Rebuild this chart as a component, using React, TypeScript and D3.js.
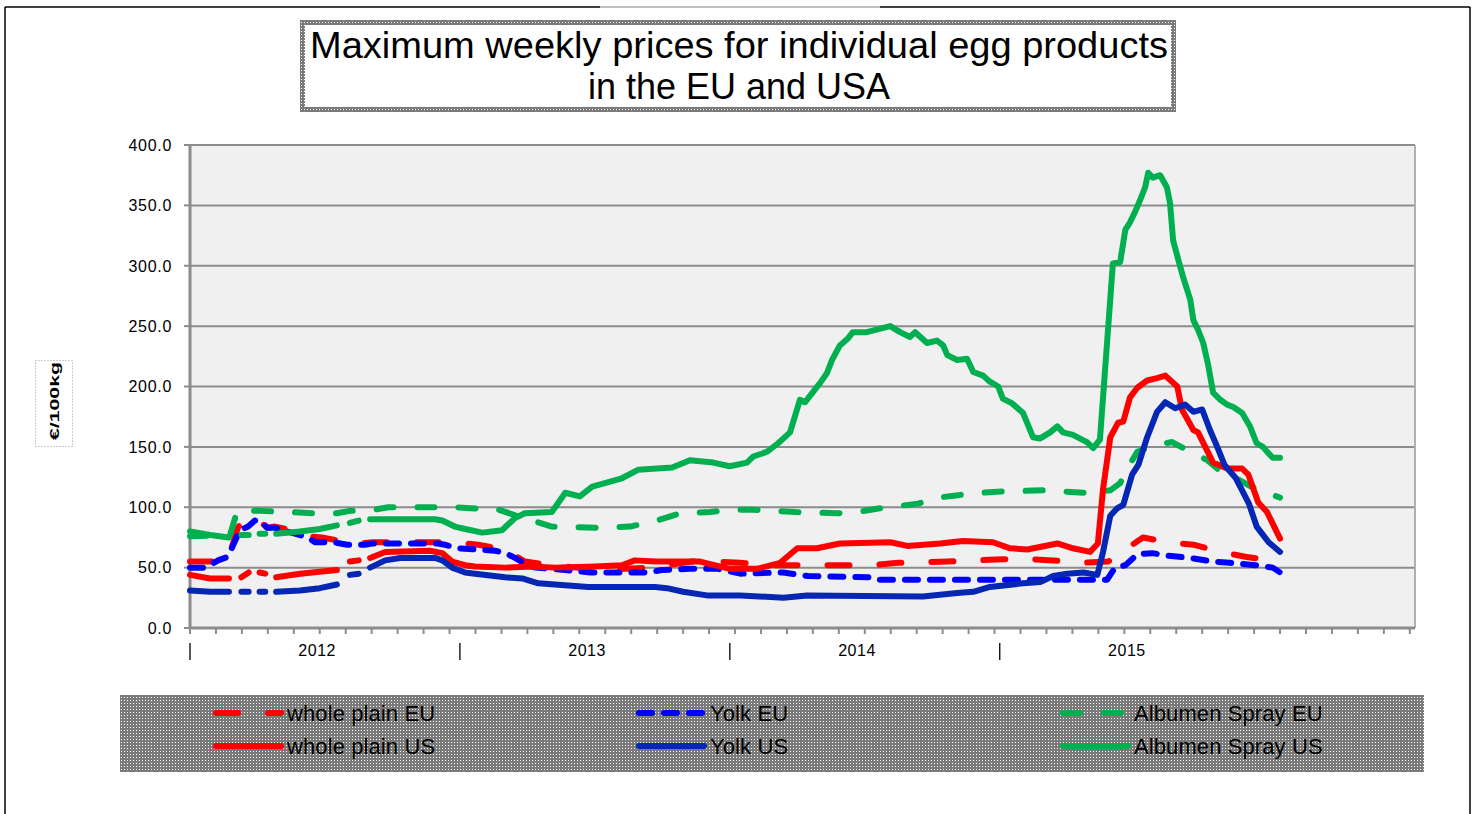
import React from "react";
import * as d3 from "d3";

type Pt = [number, number | null];

// x = week index from the first week of 2012, y = EUR / 100 kg
const yearLabels = ["2012", "2013", "2014", "2015"];
const yearStartWeeks = [0, 52, 104, 156];
const yTicks = [0, 50, 100, 150, 200, 250, 300, 350, 400];

const wholePlainEU: Pt[] = [
  [0, 55], [4.8, 55], [7.3, 56], [9.2, 83], [10.6, 90], [11.9, 91], [13.1, 89], [15, 83], [16.4, 84],
  [19.7, 81], [22.7, 76], [25.4, 75], [30.4, 71], [32.4, 70], [35.3, 71], [40.5, 71], [51.1, 71],
  [55.5, 69], [60.7, 65], [64.5, 55], [69.7, 52], [79, 48], [88.6, 50], [98.3, 56], [101.5, 55],
  [106, 54], [111.4, 52], [121.8, 52], [131.6, 52], [136.4, 54], [146, 55], [151.6, 56], [156.5, 57],
  [161.8, 57], [166.3, 56], [172.1, 54], [176.9, 55], [180.2, 65], [183.6, 75], [188.4, 71],
  [193.3, 69], [198.5, 63], [203.3, 59], [210, 55],
];

const yolkEU: Pt[] = [
  [0, 50], [2.9, 50], [5.4, 56], [7.3, 59], [9.6, 81], [11.2, 84], [12.5, 89], [13.9, 88], [14.8, 83],
  [16.4, 83], [22.7, 75], [24.1, 71], [27.6, 71], [30.3, 69], [33.7, 69], [35.1, 70], [40.8, 70],
  [47.8, 70], [49.1, 69], [51.6, 66], [55.5, 65], [58.8, 64], [60.7, 62], [62.2, 59], [65.1, 52],
  [66.5, 50], [72.3, 48], [77.1, 46], [88.2, 46], [90.9, 48], [96.3, 49], [101.7, 49], [106, 45],
  [114.3, 46], [119.1, 43], [131.6, 42], [132.9, 40], [176.7, 40], [178.2, 50], [180.2, 52],
  [182.5, 61], [185.4, 62], [188.2, 60], [192.7, 58], [197.1, 55], [200.4, 54], [205.2, 52],
  [208.6, 50], [210, 46],
];

const albumenEU: Pt[] = [
  [0, 76], [7.7, 77], [9.1, 97], [13.5, 97], [19.3, 96], [24.1, 95], [28.3, 95], [30.8, 97], [34.1, 97],
  [38.2, 100], [50.5, 100], [54.9, 99], [58.8, 99], [63.6, 92], [69.7, 84], [79, 83], [84.8, 84],
  [90, 89], [94.4, 95], [100.2, 96], [104, 98], [108.5, 98], [116.6, 96], [124.7, 95], [128.5, 96],
  [132.6, 99], [140.3, 103], [144.1, 108], [148, 110], [152.2, 112], [156.5, 113], [164.4, 114],
  [172.4, 112], [177.3, 114], [179.2, 120], [180.7, 133], [182.5, 146], [185.5, 151], [189.2, 154],
  [192.7, 146], [196, 139], [199, 128], [201.9, 123], [205.8, 114], [210, 108],
];

// US series have missing weeks early in 2012 (null = gap)
const wholePlainUS: Pt[] = [
  [0, 44], [3.9, 41], [7.5, 41], [8.7, null],
  [9.9, 42], [11.3, 46], [12.3, null],
  [13.4, 46], [14.5, 45], [15.5, null],
  [16.6, 42], [21.2, 45], [28.3, 48], [29.5, null],
  [30.8, 55], [32.5, 56], [33.6, null],
  [34.7, 58], [37.6, 63], [46.2, 64], [48.6, 62], [50.5, 55], [53, 52], [54.9, 51], [60.7, 50],
  [65.9, 51], [70.3, 50], [78, 51], [83.2, 52], [85.7, 56], [89.6, 55], [98.3, 55], [104, 49],
  [109.2, 49], [113.7, 54], [117, 66], [120.8, 66], [125.2, 70], [134.9, 71], [138.2, 68],
  [144.5, 70], [148.9, 72], [154.7, 71], [158, 66], [161.3, 65], [167.1, 70], [170.1, 66],
  [173.4, 63], [174.9, 70], [175.9, 115], [177.3, 158], [178.8, 170], [179.8, 171], [181.1, 191],
  [182.5, 199], [184.4, 205], [186.3, 207], [187.9, 209], [190.2, 200], [191.1, 181], [193.3, 164],
  [194.2, 162], [197.1, 137], [199.8, 132], [202.7, 132], [203.9, 127], [205.8, 104], [207.5, 96],
  [210, 74],
];

const yolkUS: Pt[] = [
  [0, 31], [3.9, 30], [7.5, 30], [8.7, null],
  [9.9, 30], [11.3, 30], [12.3, null],
  [13.4, 30], [14.5, 30], [15.5, null],
  [16.6, 30], [21.2, 31], [25, 33], [28.3, 36], [29.5, null],
  [30.8, 44], [32.5, 45], [33.6, null],
  [34.7, 50], [37.6, 56], [40.5, 58], [47.2, 58], [48.6, 56], [50.5, 50], [53, 46], [54.9, 45],
  [60.7, 42], [64, 41], [67.1, 37], [76.7, 34], [89.6, 34], [91.9, 33], [95, 30], [99.6, 27],
  [106, 27], [114.3, 25], [118.9, 27], [141.2, 26], [147.8, 29], [150.9, 30], [154.1, 34],
  [160.5, 37], [163.8, 38], [166.3, 43], [169, 45], [172.1, 46], [174.8, 44], [175.9, 63],
  [177.3, 93], [178.6, 99], [179.8, 102], [181.5, 127], [182.7, 135], [184.4, 158], [186.3, 179],
  [187.9, 187], [189.8, 182], [191.7, 185], [193.3, 179], [195, 181], [196.5, 164], [197.9, 150],
  [199.3, 135], [201.5, 124], [204, 103], [205.5, 84], [207.8, 71], [210, 63],
];

const albumenUS: Pt[] = [
  [0, 80], [3.9, 77], [7.5, 75], [8.7, null],
  [9.9, 77], [11.3, 77], [12.3, null],
  [13.4, 78], [14.5, 78], [15.5, null],
  [16.6, 78], [21.2, 80], [25, 82], [28.3, 85], [29.5, null],
  [30.8, 87], [32.5, 89], [33.6, null],
  [34.7, 90], [40.5, 90], [47.2, 90], [48.6, 89], [51, 84], [53, 82], [56.3, 79], [60.1, 81],
  [62.6, 91], [64.5, 95], [69.7, 96], [72.3, 112], [75.1, 109], [77.5, 117], [83.2, 124],
  [86.3, 131], [92.9, 133], [96.3, 139], [100.8, 137], [104, 134], [107.3, 137], [108.5, 142],
  [111.2, 146], [113.3, 153], [115.6, 162], [117.5, 189], [118.5, 187], [121.4, 203], [122.7, 211],
  [123.7, 222], [125.2, 234], [126.8, 240], [127.7, 245], [130.4, 245], [134.9, 250], [136.8, 245],
  [138.7, 241], [139.7, 245], [142, 236], [143.9, 238], [145.1, 234], [145.9, 226], [147.8, 222],
  [149.7, 223], [150.9, 212], [152.8, 209], [154.1, 204], [155.7, 200], [156.6, 190], [158.4, 186],
  [160.5, 178], [162.4, 158], [163.8, 157], [165.7, 162], [167.1, 167], [168.2, 162], [170.1, 160],
  [172.8, 154], [174, 149], [175.3, 156], [177.8, 302], [179.2, 303], [180.2, 330], [181.1, 336],
  [182.1, 345], [183, 354], [184, 365], [184.6, 377], [185.5, 373], [186.9, 375], [188.2, 365],
  [188.8, 352], [189.4, 321], [190.4, 305], [191.3, 291], [192.7, 272], [193.3, 255], [194.2, 247],
  [195.2, 236], [196.1, 219], [197.1, 195], [198.5, 189], [199.8, 185], [201, 183], [202.7, 178],
  [204.2, 167], [205.5, 153], [206.7, 150], [207.7, 145], [208.6, 141], [210, 141],
];

const series = [
  { name: "whole plain EU", data: wholePlainEU, color: "#ff0000", dash: "22,30" },
  { name: "Yolk EU", data: yolkEU, color: "#0000ff", dash: "13,12" },
  { name: "Albumen Spray EU", data: albumenEU, color: "#00b050", dash: "17,24" },
  { name: "whole plain US", data: wholePlainUS, color: "#ff0000", dash: null },
  { name: "Yolk US", data: yolkUS, color: "#0626b4", dash: null },
  { name: "Albumen Spray US", data: albumenUS, color: "#00b050", dash: null },
];

const W = 1476;
const H = 814;
const plot = { left: 190, right: 1415, top: 145, bottom: 628 };
const font = "'Liberation Sans', Arial, sans-serif";

export default function App() {
  const x = d3.scaleLinear().domain([0, 236]).range([plot.left, plot.right]);
  const y = d3.scaleLinear().domain([0, 400]).range([plot.bottom, plot.top]);
  const line = d3
    .line<Pt>()
    .defined((d) => d[1] !== null)
    .x((d) => x(d[0]))
    .y((d) => y(d[1] as number));

  const minorTicks = d3.range(0, 237, 5);
  const legendX = [213, 636, 1060];
  const legendY = [713, 746];

  return (
    <svg
      width={W}
      height={H}
      style={{ position: "absolute", left: 0, top: 0, background: "#fff" }}
      fontFamily={font}
    >
      <defs>
        <pattern id="stipple" width="3" height="3" patternUnits="userSpaceOnUse">
          <rect width="3" height="3" fill="#7a7a7a" />
          <rect x="1" y="1" width="1" height="1" fill="#ffffff" />
        </pattern>
      </defs>

      {/* outer frame */}
      <line x1={5} y1={7} x2={600} y2={7} stroke="#000" strokeWidth={1.5} />
      <line x1={600} y1={7} x2={880} y2={7} stroke="#aaa" strokeWidth={1.5} />
      <line x1={880} y1={7} x2={1470} y2={7} stroke="#000" strokeWidth={1.5} />
      <line x1={5} y1={7} x2={5} y2={H} stroke="#000" strokeWidth={1.5} />
      <line x1={1470} y1={7} x2={1470} y2={H} stroke="#000" strokeWidth={1.5} />

      {/* title */}
      <rect x={302.5} y={22.5} width={871} height={87} fill="#fff" stroke="url(#stipple)" strokeWidth={5} />
      <text x={310} y={58} fontSize={37} textLength={858} lengthAdjust="spacingAndGlyphs" fill="#000">
        Maximum weekly prices for individual egg products
      </text>
      <text x={588} y={99} fontSize={37} textLength={302} lengthAdjust="spacingAndGlyphs" fill="#000">
        in the EU and USA
      </text>

      {/* y label */}
      <rect x={35.5} y={360.5} width={37} height={86} fill="none" stroke="#999" strokeDasharray="1,2" />
      <text
        transform="translate(59,401) rotate(-90)"
        textAnchor="middle"
        fontSize={13}
        fontWeight="bold"
        textLength={78}
        lengthAdjust="spacingAndGlyphs"
      >
        €/100kg
      </text>

      {/* plot area */}
      <rect x={plot.left} y={plot.top} width={plot.right - plot.left} height={plot.bottom - plot.top} fill="#f0f0f0" />
      {yTicks.map((t) => (
        <g key={t}>
          <line x1={plot.left} x2={plot.right} y1={y(t)} y2={y(t)} stroke="#8c8c8c" strokeWidth={2} />
          <line x1={plot.left - 6} x2={plot.left} y1={y(t)} y2={y(t)} stroke="#8c8c8c" strokeWidth={2} />
          <text x={172} y={y(t)} dy="0.36em" textAnchor="end" fontSize={16} letterSpacing={0.7} fill="#000">
            {d3.format(".1f")(t)}
          </text>
        </g>
      ))}
      <line x1={plot.right} x2={plot.right} y1={plot.top} y2={plot.bottom} stroke="#b0b0b0" strokeWidth={2} />
      <line x1={plot.left} x2={plot.left} y1={plot.top} y2={plot.bottom + 1} stroke="#8c8c8c" strokeWidth={3} />
      <line x1={plot.left} x2={plot.right} y1={plot.bottom} y2={plot.bottom} stroke="#8c8c8c" strokeWidth={3} />
      {minorTicks.map((w) => (
        <line key={w} x1={x(w)} x2={x(w)} y1={plot.bottom} y2={plot.bottom + 6} stroke="#8c8c8c" strokeWidth={2} />
      ))}
      {yearStartWeeks.map((w, i) => (
        <g key={w}>
          <line x1={x(w)} x2={x(w)} y1={643} y2={660} stroke="#000" strokeWidth={1.3} />
          <text x={x(w + 24.5)} y={656} textAnchor="middle" fontSize={16} letterSpacing={0.5} fill="#000">
            {yearLabels[i]}
          </text>
        </g>
      ))}

      {/* series */}
      {series.map((s) => (
        <path
          key={s.name}
          d={line(s.data) || ""}
          fill="none"
          stroke={s.color}
          strokeWidth={6}
          strokeDasharray={s.dash || undefined}
          strokeLinecap="round"
          strokeLinejoin="round"
        />
      ))}

      {/* legend */}
      <rect x={120} y={695} width={1304} height={77} fill="url(#stipple)" />
      {series.map((s, i) => {
        const col = i % 3;
        const row = Math.floor(i / 3);
        const lx = legendX[col];
        const ly = legendY[row];
        return (
          <g key={s.name}>
            <line
              x1={lx + 3}
              x2={lx + 68}
              y1={ly}
              y2={ly}
              stroke={s.color}
              strokeWidth={6}
              strokeDasharray={s.dash || undefined}
              strokeLinecap="round"
            />
            <text x={lx + 74} y={ly} dy="0.36em" fontSize={22} letterSpacing={0.1} fill="#000">
              {s.name}
            </text>
          </g>
        );
      })}
    </svg>
  );
}
